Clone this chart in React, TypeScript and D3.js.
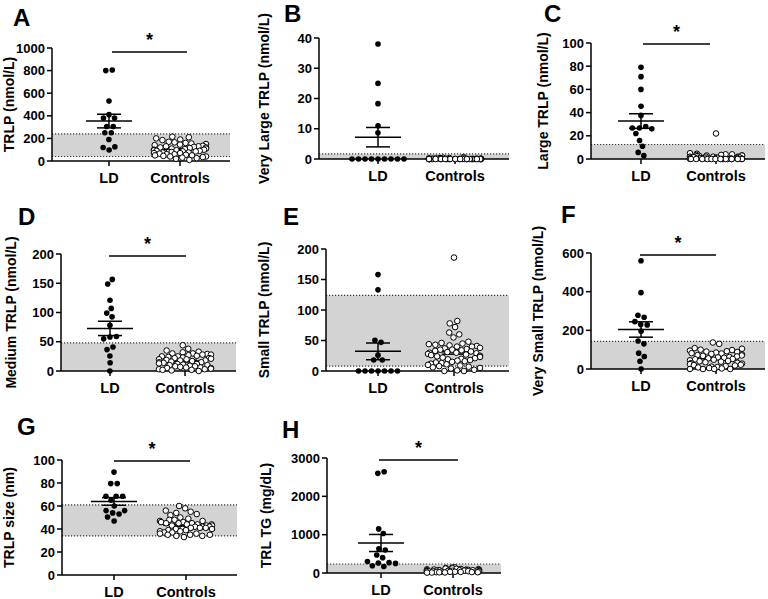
import React, { useMemo } from 'react';
import * as d3 from 'd3';

const groupNames = ['LD', 'Controls'];

// Panel A: TRLP (nmol/L)
const aLD = [800, 805, 530, 410, 380, 380, 305, 305, 250, 250, 190, 125, 120, 98];
const aCtrl = [215, 210, 200, 190, 185, 170, 165, 160, 155, 150, 145, 140, 135, 130, 130, 125, 120, 120, 115, 110, 110, 105, 100, 100, 95, 95, 90, 90, 85, 85, 80, 80, 75, 75, 70, 70, 65, 60, 60, 55, 50, 50, 45, 40, 40, 35, 30, 25, 20, 10];
const aBand = [40, 240];
const aTicks = [0, 200, 400, 600, 800, 1000];

// Panel B: Very Large TRLP
const bLD = [38, 25, 18.3, 11, 8.7, 0, 0, 0, 0, 0, 0, 0, 0, 0];
const bCtrl = [0.6, 0.4, 0.3, 0.3, 0.2, 0.2, 0.2, 0.1, 0.1, 0.1, 0.1, 0.1, 0, 0, 0, 0, 0, 0, 0, 0, 0, 0, 0, 0, 0, 0, 0, 0, 0, 0, 0, 0, 0, 0, 0, 0, 0, 0, 0, 0, 0, 0, 0, 0, 0, 0, 0, 0];
const bBand = [0, 1.7];
const bTicks = [0, 10, 20, 30, 40];

// Panel C: Large TRLP
const cLD = [79, 71, 60, 45.4, 37.6, 28, 22, 26.7, 26.7, 26, 16, 11, 5.7, 2.9];
const cCtrl = [22, 5, 4.5, 4, 4, 3.5, 3.5, 3, 3, 3, 2.5, 2.5, 2, 2, 2, 2, 1.5, 1.5, 1.5, 1, 1, 1, 1, 1, 0.8, 0.5, 0.5, 0.5, 0.5, 0.3, 0.3, 0.2, 0.2, 0.1, 0.1, 0, 0, 0, 0, 0, 0, 0, 0, 0, 0, 0, 0, 0, 0, 0];
const cBand = [0, 12.5];
const cTicks = [0, 20, 40, 60, 80, 100];

// Panel D: Medium TRLP
const dLD = [148.6, 156.6, 121, 107, 99, 92.6, 78, 58, 55, 59, 36.6, 41, 25.7, 14, 0];
const dCtrl = [44, 38, 35, 33, 32, 30, 30, 29, 28, 28, 27, 26, 25, 25, 24, 23, 22, 22, 21, 20, 20, 19, 18, 18, 17, 16, 15, 15, 14, 13, 12, 12, 11, 10, 10, 9, 8, 8, 7, 6, 6, 5, 5, 4, 3, 3, 2, 2, 1, 0];
const dBand = [0, 48];
const dTicks = [0, 50, 100, 150, 200];

// Panel E: Small TRLP
const eLD = [158, 133, 50.5, 47, 26, 18, 18, 0, 0, 0, 0, 0, 0, 0];
const eCtrl = [186, 82, 78, 72, 63, 60, 55, 48, 46, 45, 44, 43, 42, 41, 40, 40, 38, 37, 36, 35, 35, 34, 33, 32, 31, 30, 30, 29, 28, 27, 26, 25, 24, 23, 22, 21, 20, 19, 18, 17, 16, 15, 14, 13, 12, 11, 10, 9, 8, 7, 6, 5, 4, 2, 1, 0, 0];
const eBand = [8, 124];
const eTicks = [0, 50, 100, 150, 200];

// Panel F: Very Small TRLP
const fLD = [560, 395, 278, 268, 245, 228, 230, 195, 145, 130, 82, 65, 40, 0];
const fCtrl = [137, 130, 108, 105, 100, 98, 95, 92, 90, 88, 85, 82, 80, 78, 75, 72, 70, 68, 65, 62, 60, 58, 55, 52, 50, 48, 45, 42, 40, 38, 35, 32, 30, 28, 25, 22, 20, 18, 15, 12, 10, 8, 5, 3, 0, 0, 0, 0];
const fBand = [0, 143];
const fTicks = [0, 200, 400, 600];

// Panel G: TRLP size (nm)
const gLD = [89.5, 79.5, 79.5, 68.5, 68.5, 68.5, 65, 60, 56, 56, 54, 53, 50.5, 47];
const gCtrl = [60, 58, 56, 55, 54, 53, 52, 50, 49, 48, 48, 47, 47, 46, 46, 45, 45, 45, 44, 44, 44, 43, 43, 43, 42, 42, 42, 41, 41, 41, 40, 40, 40, 39, 39, 38, 38, 37, 37, 36, 36, 35, 35, 35, 34, 34, 33];
const gBand = [34, 61];
const gTicks = [0, 20, 40, 60, 80, 100];

// Panel H: TRL TG (mg/dL)
const hLD = [2600, 2640, 1150, 1030, 630, 600, 470, 400, 300, 270, 260, 250, 190, 170];
const hCtrl = [150, 140, 130, 120, 115, 110, 105, 100, 95, 90, 88, 85, 82, 80, 78, 75, 72, 70, 68, 65, 62, 60, 58, 55, 52, 50, 48, 45, 42, 40, 38, 35, 32, 30, 28, 25, 22, 20, 18, 15, 12, 10];
const hBand = [0, 235];
const hTicks = [0, 1000, 2000, 3000];

const panelData = [
  { letter: 'A', title: 'TRLP (nmol/L)', ld: aLD, ctrl: aCtrl, band: aBand, ticks: aTicks, sig: true },
  { letter: 'B', title: 'Very Large TRLP (nmol/L)', ld: bLD, ctrl: bCtrl, band: bBand, ticks: bTicks, sig: false },
  { letter: 'C', title: 'Large TRLP (nmol/L)', ld: cLD, ctrl: cCtrl, band: cBand, ticks: cTicks, sig: true },
  { letter: 'D', title: 'Medium TRLP (nmol/L)', ld: dLD, ctrl: dCtrl, band: dBand, ticks: dTicks, sig: true },
  { letter: 'E', title: 'Small TRLP (nmol/L)', ld: eLD, ctrl: eCtrl, band: eBand, ticks: eTicks, sig: false },
  { letter: 'F', title: 'Very Small TRLP (nmol/L)', ld: fLD, ctrl: fCtrl, band: fBand, ticks: fTicks, sig: true },
  { letter: 'G', title: 'TRLP size (nm)', ld: gLD, ctrl: gCtrl, band: gBand, ticks: gTicks, sig: true },
  { letter: 'H', title: 'TRL TG (mg/dL)', ld: hLD, ctrl: hCtrl, band: hBand, ticks: hTicks, sig: true },
];

// layout (pixels)
const layouts = [
  { ax: 52, top: 48, bottom: 161, right: 230, xLD: 109, xC: 180, titleX: 9, lx: 13, ly: 26, s1: 112, s2: 187, sy: 52 },
  { ax: 319, top: 38, bottom: 159, right: 509, xLD: 378, xC: 455, titleX: 264, lx: 284, ly: 22, s1: 0, s2: 0, sy: 0 },
  { ax: 591, top: 43, bottom: 159, right: 765, xLD: 641, xC: 716, titleX: 543, lx: 544, ly: 22, s1: 643, s2: 710, sy: 44 },
  { ax: 61, top: 254, bottom: 371, right: 236, xLD: 110, xC: 185, titleX: 11, lx: 18, ly: 225, s1: 109, s2: 186, sy: 256 },
  { ax: 326, top: 249, bottom: 371, right: 509, xLD: 378, xC: 454, titleX: 264, lx: 283, ly: 225, s1: 0, s2: 0, sy: 0 },
  { ax: 591, top: 253, bottom: 369, right: 765, xLD: 641, xC: 716, titleX: 538, lx: 561, ly: 223, s1: 640, s2: 716, sy: 255 },
  { ax: 62, top: 460, bottom: 575, right: 237, xLD: 114, xC: 186, titleX: 9, lx: 17, ly: 435, s1: 114, s2: 190, sy: 461 },
  { ax: 327, top: 458, bottom: 573, right: 501, xLD: 381, xC: 453, titleX: 266, lx: 282, ly: 438, s1: 379, s2: 458, sy: 460 },
];

const R = 2.8;
const FONT = '"Liberation Sans", Arial, Helvetica, sans-serif';

type Node = { x: number; y: number; fy: number; v: number };

function swarm(values: number[], y: (v: number) => number, cx: number, maxHalf: number): Node[] {
  const nodes: any[] = values.map((v, i) => ({ x: cx + (i % 2 ? 1 : -1) * (i * 0.15), y: y(v), fy: y(v), v }));
  const sim = d3
    .forceSimulation(nodes)
    .force('x', d3.forceX(cx).strength(0.04))
    .force('c', d3.forceCollide(R + 0.45).strength(0.9))
    .stop();
  for (let i = 0; i < 300; i++) {
    sim.tick();
    nodes.forEach((n) => {
      n.x = Math.max(cx - maxHalf, Math.min(cx + maxHalf, n.x));
    });
  }
  return nodes;
}

function stats(vals: number[]) {
  const m = d3.mean(vals) as number;
  const sd = d3.deviation(vals) as number;
  return { m, sem: sd / Math.sqrt(vals.length) };
}

function Panel({ p, L }: { p: any; L: any }) {
  const max = p.ticks[p.ticks.length - 1];
  const y = d3.scaleLinear().domain([0, max]).range([L.bottom, L.top]);
  const ldNodes = useMemo(() => swarm(p.ld, y, L.xLD, 26), []);
  const cNodes = useMemo(() => swarm(p.ctrl, y, L.xC, 26), []);
  const sLD = stats(p.ld);
  const sC = stats(p.ctrl);
  const errBar = (s: any, cx: number) => (
    <g stroke="#000" strokeWidth={1.5} fill="none">
      <line x1={cx - 23} x2={cx + 23} y1={y(s.m)} y2={y(s.m)} />
      <line x1={cx} x2={cx} y1={y(s.m - s.sem)} y2={y(s.m + s.sem)} />
      <line x1={cx - 12} x2={cx + 12} y1={y(s.m + s.sem)} y2={y(s.m + s.sem)} />
      <line x1={cx - 12} x2={cx + 12} y1={y(s.m - s.sem)} y2={y(s.m - s.sem)} />
    </g>
  );
  return (
    <g fontFamily={FONT} fontWeight="bold">
      <text x={L.lx} y={L.ly} fontSize={24} fill="#000">{p.letter}</text>
      {/* reference band */}
      <rect x={L.ax} width={L.right - L.ax} y={y(p.band[1])} height={y(p.band[0]) - y(p.band[1])} fill="#d3d3d3" />
      <line x1={L.ax} x2={L.right} y1={y(p.band[1])} y2={y(p.band[1])} stroke="#333" strokeWidth={1.2} strokeDasharray="1.2,1.8" />
      {p.band[0] > 0 && (
        <line x1={L.ax} x2={L.right} y1={y(p.band[0])} y2={y(p.band[0])} stroke="#333" strokeWidth={1.2} strokeDasharray="1.2,1.8" />
      )}
      {/* axes */}
      <line x1={L.ax} x2={L.ax} y1={L.top} y2={L.bottom} stroke="#000" strokeWidth={1.5} />
      <line x1={L.ax} x2={L.right} y1={L.bottom} y2={L.bottom} stroke="#000" strokeWidth={1.5} />
      {p.ticks.map((t: number) => (
        <g key={t}>
          <line x1={L.ax - 5} x2={L.ax} y1={y(t)} y2={y(t)} stroke="#000" strokeWidth={1.5} />
          <text x={L.ax - 7} y={y(t)} dy="0.35em" textAnchor="end" fontSize={13} fill="#000">{t}</text>
        </g>
      ))}
      {[L.xLD, L.xC].map((x: number, i: number) => (
        <g key={i}>
          <line x1={x} x2={x} y1={L.bottom} y2={L.bottom + 5} stroke="#000" strokeWidth={1.5} />
          <text x={x} y={L.bottom + 22} textAnchor="middle" fontSize={14.5} fill="#000">{groupNames[i]}</text>
        </g>
      ))}
      <text
        transform={`translate(${L.titleX},${(L.top + L.bottom) / 2}) rotate(-90)`}
        textAnchor="middle"
        dy="0.35em"
        fontSize={14}
        fill="#000"
      >
        {p.title}
      </text>
      {/* controls: error bar under points */}
      {errBar(sC, L.xC)}
      {cNodes.map((n, i) => (
        <circle key={'c' + i} cx={n.x} cy={n.fy} r={R} fill="#fff" stroke="#000" strokeWidth={1} />
      ))}
      {ldNodes.map((n, i) => (
        <circle key={'l' + i} cx={n.x} cy={n.fy} r={R} fill="#000" />
      ))}
      {errBar(sLD, L.xLD)}
      {p.sig && (
        <g>
          <line x1={L.s1} x2={L.s2} y1={L.sy} y2={L.sy} stroke="#000" strokeWidth={1.5} />
          <text x={(L.s1 + L.s2) / 2} y={L.sy - 6} textAnchor="middle" fontSize={18} fill="#000">*</text>
        </g>
      )}
    </g>
  );
}

export default function App() {
  return (
    <svg width={768} height={599} style={{ position: 'absolute', left: 0, top: 0, background: '#fff' }}>
      <rect width={768} height={599} fill="#fff" />
      {panelData.map((p, i) => (
        <Panel key={p.letter} p={p} L={layouts[i]} />
      ))}
    </svg>
  );
}
